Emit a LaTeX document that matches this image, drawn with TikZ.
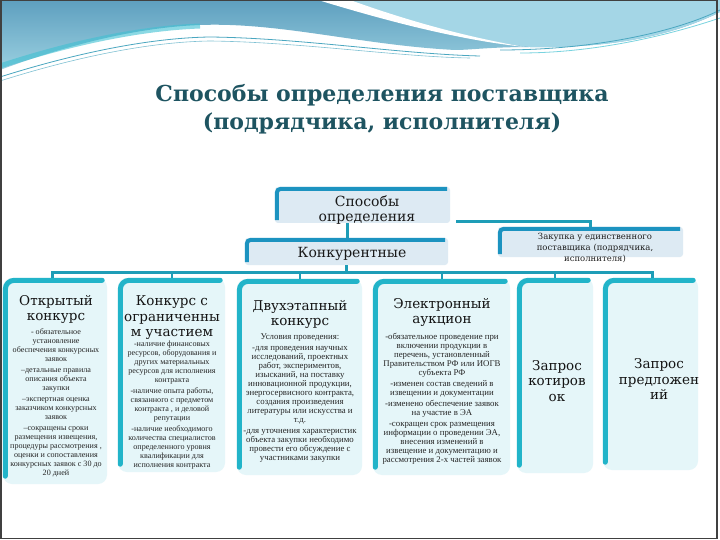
\documentclass[tikz,border=0pt]{standalone}
\usepackage{fontspec}
\setmainfont{DejaVu Serif}
\newfontfamily\bodyf{Liberation Serif}
\usetikzlibrary{calc}
\definecolor{ttl}{HTML}{1E5461}
\definecolor{brc}{HTML}{22B4C9}
\definecolor{brt}{HTML}{1C93C0}
\definecolor{lowfill}{HTML}{E5F6F9}
\definecolor{topfill}{HTML}{DDEAF3}
\definecolor{conncol}{HTML}{1E9DB7}
\definecolor{hdA}{HTML}{5E9FBF}
\definecolor{hdB}{HTML}{9AD0E0}
\definecolor{hdC}{HTML}{A4D6E6}
\definecolor{hdCy}{HTML}{3FC0D2}
\definecolor{hdL}{HTML}{4AA7C0}
\tikzset{
 lowbox/.style={fill=lowfill, rounded corners=9pt, inner sep=0pt},
 topbox/.style={fill=topfill, rounded corners=3pt, inner sep=0pt},
 lowbr/.style={draw=brc, line width=5pt, rounded corners=9pt, line cap=round},
 topbr/.style={draw=brt, line width=4pt, rounded corners=4pt},
 connline/.style={draw=conncol, line width=3pt},
 tickline/.style={draw=conncol, line width=2pt},
 bodytxt/.style={font=\bodyf\fontsize{8.8}{9}\selectfont, align=center, text=black!85, inner sep=0pt, anchor=north},
 bodysmall/.style={bodytxt, font=\bodyf\fontsize{8.1}{9}\selectfont},
 headtxt/.style={font=\fontsize{13.5}{15.5}\selectfont, align=center, text=black!92, inner sep=0pt},
}
\newcommand\mylowbr[1]{\draw[lowbr] ([xshift=2.5pt,yshift=8pt]#1.south west) -- ([xshift=2.5pt,yshift=-2.5pt]#1.north west) -- ([xshift=-5pt,yshift=-2.5pt]#1.north east);}
\newcommand\mytopbr[1]{\draw[topbr] ([xshift=2pt,yshift=3pt]#1.south west) -- ([xshift=2pt,yshift=-2pt]#1.north west) -- ([xshift=-3pt,yshift=-2pt]#1.north east);}
\begin{document}
\begin{tikzpicture}[x=1pt,y=-1pt]
\useasboundingbox (0,0) rectangle (720,540);
\fill[white] (0,0) rectangle (720,540);
% header waves
\shade[top color=hdA, bottom color=hdB] (0,0) -- (720,0) -- (720,12) .. controls (660,42) and (590,48) .. (530,47) .. controls (490,47) and (470,50) .. (455,50) .. controls (360,45) and (280,22) .. (200,25) .. controls (120,28) and (40,55) .. (0,70) -- cycle;
\fill[hdC] (345,0) -- (720,0) -- (720,12) .. controls (660,42) and (590,48) .. (530,47) .. controls (470,40) and (400,20) .. (345,0) -- cycle;
\fill[white] (318,0) .. controls (390,22) and (460,40) .. (525,47) .. controls (460,36) and (400,18) .. (350,0) -- cycle;
\draw[hdCy, line width=5pt, opacity=.6] (0,66) .. controls (40,53) and (120,29) .. (200,26);
\draw[hdL, line width=.8pt] (0,77) .. controls (60,58) and (140,38) .. (210,37) .. controls (300,38) and (400,54) .. (480,56);
\draw[hdL!70, line width=.6pt] (0,81) .. controls (60,62) and (140,42) .. (210,41) .. controls (300,42) and (400,57) .. (470,58);
\draw[hdL, line width=.8pt] (500,50) .. controls (600,50) and (680,30) .. (720,10);
\draw[hdCy!70, line width=.8pt] (520,53) .. controls (610,53) and (690,28) .. (720,18);

% title
\node[font=\bfseries\fontsize{22}{28.5}\selectfont, text=ttl, align=center] (title) at (382,109) {Способы определения поставщика\\(подрядчика, исполнителя)};

% top boxes
\node[topbox, minimum width=175pt, minimum height=36pt] (sp) at (362.5,205) {};
\node[topbox, minimum width=203pt, minimum height=27pt] (kon) at (346.5,251.5) {};
\node[topbox, minimum width=185pt, minimum height=30pt] (zak) at (590.5,242) {};
\mytopbr{sp}\mytopbr{kon}\mytopbr{zak}
\node[font=\fontsize{14}{15}\selectfont, align=center, text=black!90] (sptxt) at (367,210) {Способы\\определения};
\node[font=\fontsize{14}{15}\selectfont, text=black!90] (kontxt) at (352,254) {Конкурентные};
\node[font=\fontsize{8.5}{11}\selectfont, align=center, text=black!88] (zaktxt) at (595,248) {Закупка у единственного\\поставщика (подрядчика,\\исполнителя)};

% lower boxes
\node[lowbox, minimum width=104pt, minimum height=206pt] (b1) at (55,381) {};
\node[lowbox, minimum width=107pt, minimum height=194pt] (b2) at (171.5,375) {};
\node[lowbox, minimum width=125pt, minimum height=196pt] (b3) at (299.5,377) {};
\node[lowbox, minimum width=137pt, minimum height=196pt] (b4) at (441.5,377) {};
\node[lowbox, minimum width=76pt, minimum height=195pt] (b5) at (555,375.5) {};
\node[lowbox, minimum width=95pt, minimum height=192pt] (b6) at (650.5,374) {};
\mylowbr{b1}\mylowbr{b2}\mylowbr{b3}\mylowbr{b4}\mylowbr{b5}\mylowbr{b6}

% connectors
\coordinate (busL) at (52,272);
\coordinate (busR) at (652,272);
\draw[connline] ([xshift=-15pt]sp.south) -- ([xshift=-15pt]sp.south |- kon.north);
\draw[connline] ([xshift=6pt,yshift=2pt]sp.south east) -| (zak.north);
\draw[connline] (kon.south) -- (kon.south |- busL);
\draw[connline] (busL |- b1.north) -- (busL) -- (busR) -- (busR |- b6.north);
\foreach \b in {b2,b3,b4,b5} \draw[tickline] (\b.north) -- (\b.north |- busL);

% box texts
\node[headtxt] (h1) at (56,309.5) {Открытый\\конкурс};
\node[bodysmall] (t1) at (56,328) {- обязательное\\установление\\обеспечения конкурсных\\заявок\\[2pt]
–детальные правила\\описания объекта\\закупки\\[2pt]
–экспертная оценка\\заказчиком конкурсных\\заявок\\[2pt]
–сокращены сроки\\размещения извещения,\\процедуры рассмотрения ,\\оценки и сопоставления\\конкурсных заявок с 30 до\\20 дней};

\node[headtxt] (h2) at (172,318) {Конкурс с\\ограниченны\\м участием};
\node[bodysmall] (t2) at (172,341) {-наличие финансовых\\ресурсов, оборудования и\\других материальных\\ресурсов для исполнения\\контракта\\[2pt]
-наличие опыта работы,\\связанного с предметом\\контракта , и деловой\\репутации\\[2pt]
-наличие необходимого\\количества специалистов\\определенного уровня\\квалификации для\\исполнения контракта};

\node[headtxt] (h3) at (300,314.5) {Двухэтапный\\конкурс};
\node[bodytxt] (t3) at (300,334) {Условия проведения:\\[2pt]
-для проведения научных\\исследований, проектных\\работ, экспериментов,\\изысканий, на поставку\\инновационной продукции,\\энергосервисного контракта,\\создания произведения\\литературы или искусства и\\т.д.\\[2pt]
-для уточнения характеристик\\объекта закупки необходимо\\провести его обсуждение с\\участниками закупки};

\node[headtxt] (h4) at (442,312.5) {Электронный\\аукцион};
\node[bodytxt] (t4) at (442,333) {-обязательное проведение при\\включении продукции в\\перечень, установленный\\Правительством РФ или ИОГВ\\субъекта РФ\\[2pt]
-изменен состав сведений в\\извещении и документации\\[2pt]
-изменено обеспечение заявок\\на участие в ЭА\\[2pt]
-сокращен срок размещения\\информации о проведении ЭА,\\внесения изменений в\\извещение и документацию и\\рассмотрения 2-х частей заявок};

\node[headtxt] (h5) at (557,381) {Запрос\\котиров\\ок};
\node[headtxt] (h6) at (659,379) {Запрос\\предложен\\ий};

% slide frame
\draw[black!75, line width=1.5pt] (0.75,0.75) rectangle (717,538.5);
\end{tikzpicture}
\end{document}
